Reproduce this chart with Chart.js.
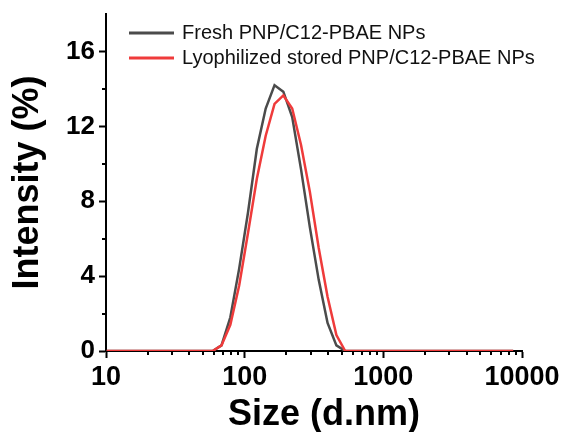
<!DOCTYPE html>
<html>
<head>
<meta charset="utf-8">
<script src="https://cdn.jsdelivr.net/npm/chart.js@4.4.0/dist/chart.umd.min.js"></script>
<style>
  html, body { margin: 0; padding: 0; background: #fff; }
  #wrap { width: 563px; height: 432px; }
</style>
</head>
<body>
<div id="wrap"><canvas id="dls-chart"></canvas></div>
<script>
// DLS size bins (d.nm) and intensity distributions (%)
const sizes = [10.1, 11.7, 13.54, 15.69, 18.17, 21.04, 24.36, 28.21, 32.67, 37.84,
  43.82, 50.75, 58.77, 68.06, 78.82, 91.28, 105.7, 122.4, 141.8, 164.2,
  190.1, 220.2, 255.0, 295.3, 342.0, 396.1, 458.7, 531.2, 615.1, 712.4,
  825.0, 955.4, 1106, 1281, 1484, 1718, 1990, 2305, 2669, 3091,
  3580, 4145, 4801, 5560, 6439, 7456, 8635];
const fresh = [0, 0, 0, 0, 0, 0, 0, 0, 0, 0,
  0, 0, 0, 0.3, 1.8, 4.4, 7.4, 10.8, 12.95, 14.2,
  13.85, 12.5, 9.7, 6.6, 3.8, 1.5, 0.3, 0, 0, 0,
  0, 0, 0, 0, 0, 0, 0, 0, 0, 0,
  0, 0, 0, 0, 0, 0, 0];
const lyophilized = [0, 0, 0, 0, 0, 0, 0, 0, 0, 0,
  0, 0, 0, 0.3, 1.4, 3.5, 6.3, 9.2, 11.5, 13.2,
  13.65, 12.95, 11.0, 8.5, 5.5, 2.9, 0.85, 0, 0, 0,
  0, 0, 0, 0, 0, 0, 0, 0, 0, 0,
  0, 0, 0, 0, 0, 0, 0];
const seriesLabels = ['Fresh PNP/C12-PBAE NPs', 'Lyophilized stored PNP/C12-PBAE NPs'];

const xMajorTicks = [10, 100, 1000, 10000];
const xMinorTicks = [20, 30, 40, 50, 60, 70, 80, 90, 200, 300, 400, 500, 600, 700, 800, 900,
  2000, 3000, 4000, 5000, 6000, 7000, 8000, 9000];
const yMajorTicks = [0, 4, 8, 12, 16];
const yMinorTicks = [2, 6, 10, 14];
const xTitle = 'Size (d.nm)';

const FONT = "'Liberation Sans', Arial, sans-serif";

// short ticks between the labelled ones, x title and the legend in the top-left corner
const extras = {
  id: 'extras',
  afterDraw(chart) {
    const ctx = chart.ctx;
    const x = chart.scales.x, y = chart.scales.y;
    const area = chart.chartArea;
    ctx.save();
    ctx.strokeStyle = '#000';
    ctx.lineWidth = 2;
    ctx.beginPath();
    xMinorTicks.forEach(v => {
      const px = Math.round(x.getPixelForValue(v));
      ctx.moveTo(px, area.bottom);
      ctx.lineTo(px, area.bottom + 4);
    });
    yMinorTicks.forEach(v => {
      const py = Math.round(y.getPixelForValue(v));
      ctx.moveTo(area.left, py);
      ctx.lineTo(area.left - 4, py);
    });
    ctx.stroke();

    ctx.fillStyle = '#000';
    ctx.font = 'bold 36px ' + FONT;
    ctx.textAlign = 'center';
    ctx.textBaseline = 'alphabetic';
    ctx.fillText(xTitle, (area.left + area.right) / 2 + 10, 425);

    ctx.font = '20px ' + FONT;
    ctx.textAlign = 'left';
    ctx.textBaseline = 'middle';
    ctx.fillStyle = '#111';
    chart.data.datasets.forEach((ds, i) => {
      const ly = 33 + i * 25;
      ctx.strokeStyle = ds.borderColor;
      ctx.lineWidth = 3;
      ctx.beginPath();
      ctx.moveTo(129, ly);
      ctx.lineTo(174, ly);
      ctx.stroke();
      ctx.fillText(ds.label, 182, ly);
    });
    ctx.restore();
  }
};

const toPoints = vals => sizes.map((s, i) => ({ x: s, y: vals[i] }));

new Chart(document.getElementById('dls-chart'), {
  type: 'line',
  data: {
    datasets: [{
      label: seriesLabels[0],
      data: toPoints(fresh),
      borderColor: '#4b4b4b',
      borderWidth: 2.5,
      pointRadius: 0,
      tension: 0,
      order: 1
    }, {
      label: seriesLabels[1],
      data: toPoints(lyophilized),
      borderColor: '#ef3b3b',
      borderWidth: 2.5,
      pointRadius: 0,
      tension: 0,
      order: 0
    }]
  },
  options: {
    responsive: true,
    maintainAspectRatio: false,
    animation: false,
    devicePixelRatio: 1,
    layout: { padding: { top: 14, right: 41, left: 0, bottom: 0 } },
    plugins: {
      legend: { display: false },
      tooltip: { enabled: false }
    },
    scales: {
      x: {
        type: 'logarithmic',
        min: 10,
        max: 10000,
        afterBuildTicks: s => { s.ticks = xMajorTicks.map(v => ({ value: v })); },
        afterFit: s => { s.height = 81; s.paddingLeft = 0; s.paddingRight = 0; },
        border: { color: '#000', width: 2 },
        grid: { drawOnChartArea: false, tickLength: 7, tickWidth: 2, tickColor: '#000' },
        ticks: {
          autoSkip: false,
          maxRotation: 0,
          padding: 3,
          color: '#000',
          font: { family: FONT, size: 27, weight: 'bold' },
          callback: v => String(v)
        }
      },
      y: {
        min: 0,
        max: 18,
        afterBuildTicks: s => { s.ticks = yMajorTicks.map(v => ({ value: v })); },
        afterFit: s => { s.width = 106; s.paddingTop = 0; s.paddingBottom = 0; },
        border: { color: '#000', width: 2 },
        grid: { drawOnChartArea: false, tickLength: 7, tickWidth: 2, tickColor: '#000' },
        ticks: {
          padding: 4,
          color: '#000',
          font: { family: FONT, size: 26, weight: 'bold' }
        },
        title: {
          display: true,
          text: 'Intensity (%)',
          color: '#000',
          font: { family: FONT, size: 36, weight: 'bold', lineHeight: 1.2 },
          padding: { top: 6, bottom: 0 }
        }
      }
    }
  },
  plugins: [extras]
});
</script>
</body>
</html>
